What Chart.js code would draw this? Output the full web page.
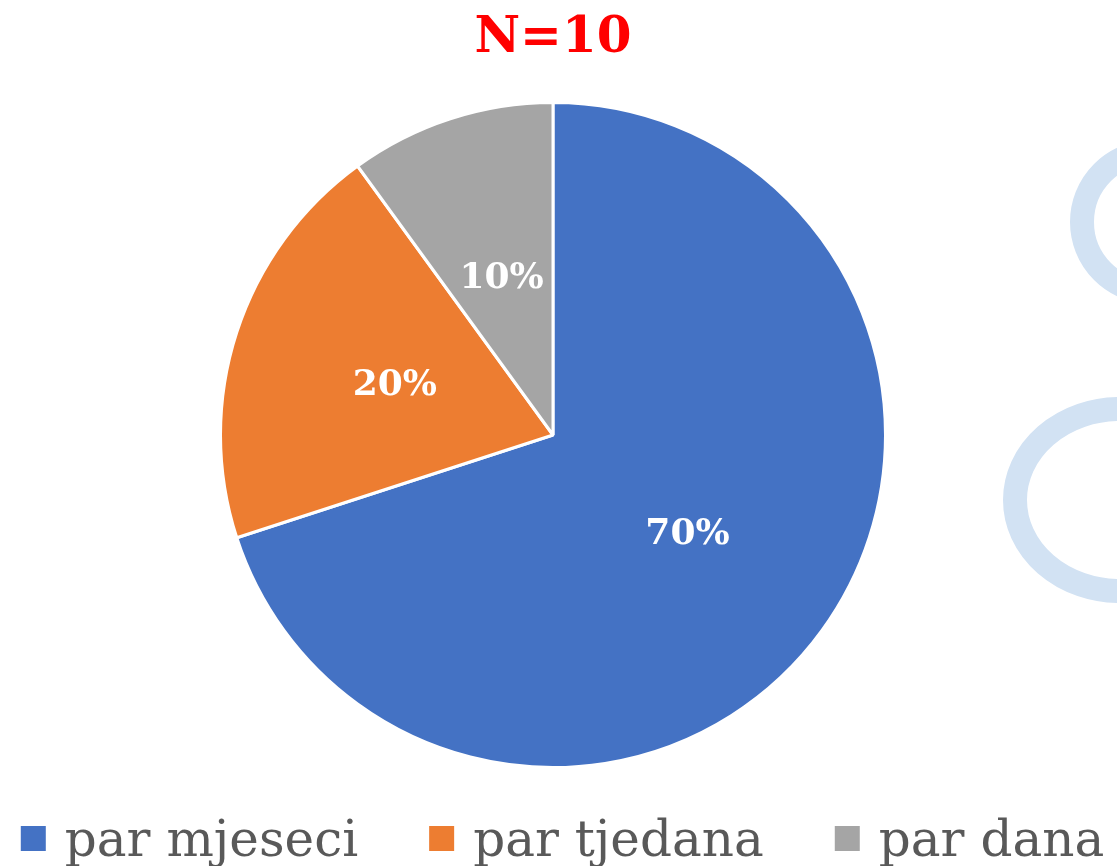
<!DOCTYPE html>
<html>
<head>
<meta charset="utf-8">
<script src="https://cdn.jsdelivr.net/npm/chart.js@4/dist/chart.umd.min.js"></script>
<style>
  html, body { margin: 0; padding: 0; background: #ffffff; }
  #wrap { width: 1117px; height: 866px; }
</style>
</head>
<body>
<div id="wrap"><canvas id="c" width="1117" height="866"></canvas></div>
<script>
const categories = ['par mjeseci', 'par tjedana', 'par dana'];
const percentages = [70, 20, 10];
const sliceColors = ['#4472C4', '#ED7D31', '#A5A5A5'];
const titleText = 'N=10';

const SERIF = '"DejaVu Serif", "Liberation Serif", serif';

const backgroundDecor = {
  id: 'backgroundDecor',
  beforeDraw(chart) {
    const ctx = chart.ctx;
    ctx.save();
    ctx.fillStyle = '#ffffff';
    ctx.fillRect(0, 0, chart.width, chart.height);
    ctx.strokeStyle = '#D2E2F3';
    ctx.lineWidth = 24;
    ctx.beginPath();
    ctx.arc(1152, 222, 70, 0, Math.PI * 2);
    ctx.stroke();
    ctx.beginPath();
    ctx.ellipse(1120, 500, 105, 91, 0, 0, Math.PI * 2);
    ctx.stroke();
    ctx.restore();
  }
};

const sliceLabels = {
  id: 'sliceLabels',
  afterDatasetsDraw(chart) {
    const ctx = chart.ctx;
    const meta = chart.getDatasetMeta(0);
    ctx.save();
    ctx.fillStyle = '#ffffff';
    ctx.font = 'bold 36px ' + SERIF;
    ctx.textAlign = 'center';
    ctx.textBaseline = 'middle';
    meta.data.forEach((arc, i) => {
      const p = arc.tooltipPosition();
      ctx.fillText(chart.data.datasets[0].data[i] + '%', p.x, p.y + 2);
    });
    ctx.restore();
  }
};

const bottomLegend = {
  id: 'bottomLegend',
  afterDraw(chart) {
    const ctx = chart.ctx;
    const ds = chart.data.datasets[0];
    const box = 25, gapText = 19, itemGap = 71;
    ctx.save();
    ctx.font = '50px ' + SERIF;
    const widths = chart.data.labels.map(t => box + gapText + ctx.measureText(t).width);
    const total = widths.reduce((a, b) => a + b, 0) + itemGap * (widths.length - 1);
    let x = chart.width / 2 + 4 - total / 2;
    ctx.textBaseline = 'alphabetic';
    ctx.textAlign = 'left';
    chart.data.labels.forEach((t, i) => {
      ctx.fillStyle = ds.backgroundColor[i];
      ctx.fillRect(x, 826, box, box);
      ctx.fillStyle = '#595959';
      ctx.fillText(t, x + box + gapText, 856);
      x += widths[i] + itemGap;
    });
    ctx.restore();
  }
};

new Chart(document.getElementById('c'), {
  type: 'pie',
  data: {
    labels: categories,
    datasets: [{
      data: percentages,
      backgroundColor: sliceColors,
      borderColor: '#ffffff',
      borderWidth: 3
    }]
  },
  options: {
    responsive: false,
    animation: false,
    layout: { padding: { top: 0, bottom: 97, left: 0, right: 11 } },
    plugins: {
      legend: { display: false },
      tooltip: { enabled: false },
      title: {
        display: true,
        text: titleText,
        color: '#FF0000',
        font: { family: SERIF, weight: 'bold', size: 50 },
        padding: { top: 9, bottom: 32 }
      }
    }
  },
  plugins: [backgroundDecor, sliceLabels, bottomLegend]
});
</script>
</body>
</html>
